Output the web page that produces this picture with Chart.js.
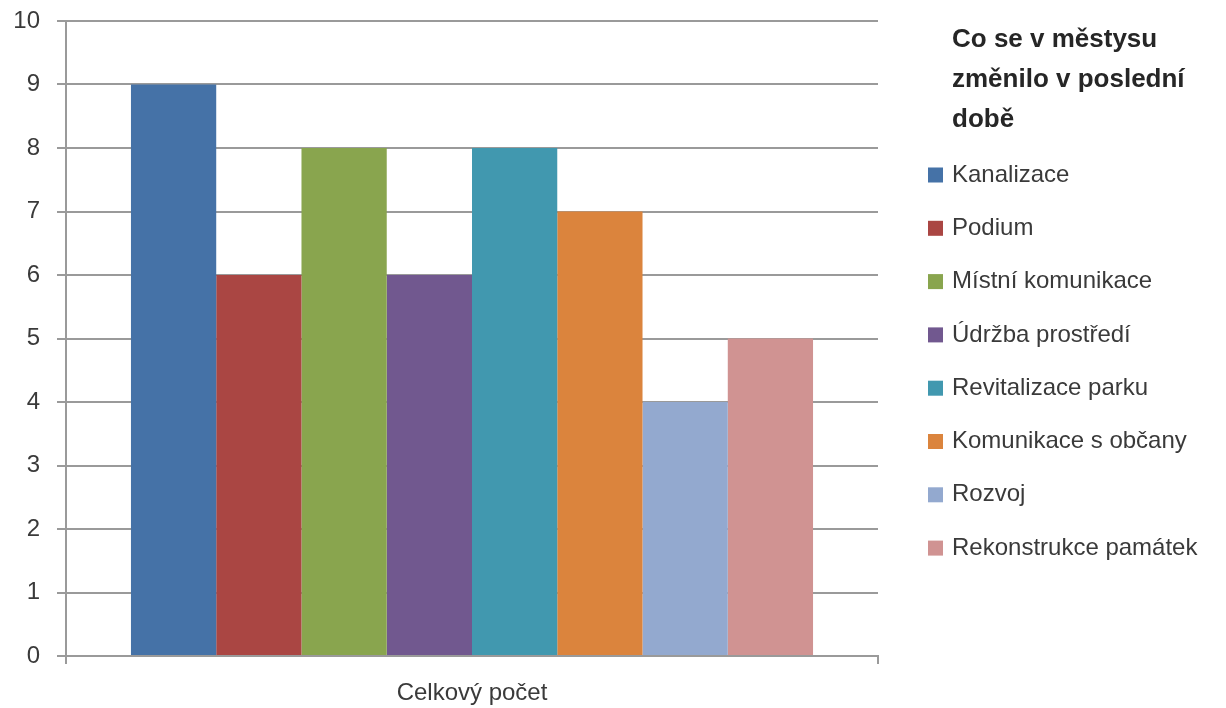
<!DOCTYPE html>
<html>
<head>
<meta charset="utf-8">
<script src="https://cdn.jsdelivr.net/npm/chart.js@4/dist/chart.umd.min.js"></script>
<style>
  html, body { margin: 0; padding: 0; background: #fff; }
  #wrap { width: 1226px; height: 708px; }
</style>
</head>
<body>
<div id="wrap"><canvas id="chart" width="1226" height="708"></canvas></div>
<script>
const categories = ["Celkový počet"];
const seriesNames = [
  "Kanalizace",
  "Podium",
  "Místní komunikace",
  "Údržba prostředí",
  "Revitalizace parku",
  "Komunikace s občany",
  "Rozvoj",
  "Rekonstrukce památek",
];
const seriesValues = [9, 6, 8, 6, 8, 7, 4, 5];
const seriesColors = [
  "#4572A7", // Kanalizace
  "#AA4643", // Podium
  "#89A54E", // Místní komunikace
  "#71588F", // Údržba prostředí
  "#4198AF", // Revitalizace parku
  "#DB843D", // Komunikace s občany
  "#93A9CF", // Rozvoj
  "#D09392", // Rekonstrukce památek
];
const legendTitle = ["Co se v městysu", "změnilo v poslední", "době"];

const FONT = "'Liberation Sans', Arial, sans-serif";

// legend drawn by hand so the title can wrap and sit above the items
const sideLegend = {
  id: "sideLegend",
  afterDraw(chart) {
    const ctx = chart.ctx;
    const x0 = chart.chartArea.right + 50;
    ctx.save();
    ctx.textBaseline = "middle";
    ctx.textAlign = "left";
    ctx.fillStyle = "#262626";
    ctx.font = "bold 26px " + FONT;
    legendTitle.forEach((line, i) => {
      ctx.fillText(line, x0 + 24, 40 + i * 40);
    });
    ctx.font = "24px " + FONT;
    chart.data.datasets.forEach((ds, i) => {
      const y = 175 + i * 53.3;
      ctx.fillStyle = ds.backgroundColor;
      ctx.fillRect(x0, y - 7.5, 15, 15);
      ctx.fillStyle = "#3a3a3a";
      ctx.fillText(ds.label, x0 + 24, y);
    });
    ctx.restore();
  },
};

const datasets = seriesNames.map((name, i) => ({
  label: name,
  data: [seriesValues[i]],
  backgroundColor: seriesColors[i],
  borderWidth: 0,
  categoryPercentage: 0.84,
  barPercentage: 1.0,
}));

const barConfig = {
  type: "bar",
  data: { labels: categories, datasets: datasets },
  options: {
    responsive: false,
    animation: false,
    layout: { padding: { top: 21, left: 0, right: 348, bottom: 0 } },
    plugins: {
      legend: { display: false },
      tooltip: { enabled: false },
    },
    scales: {
      x: {
        afterFit: (scale) => { scale.height = 52; },
        grid: {
          drawOnChartArea: false,
          drawTicks: true,
          tickLength: 8,
          color: "#9a9a9a",
          lineWidth: 2,
        },
        border: { color: "#9a9a9a", width: 2 },
        ticks: {
          color: "#3a3a3a",
          font: { family: FONT, size: 24 },
          padding: 15,
        },
      },
      y: {
        min: 0,
        max: 10,
        afterFit: (scale) => {
          scale.width = 66;
          scale.paddingTop = 0;
          scale.paddingBottom = 0;
        },
        ticks: {
          stepSize: 1,
          color: "#3a3a3a",
          font: { family: FONT, size: 24 },
          padding: 17,
        },
        grid: { color: "#9a9a9a", lineWidth: 2, tickLength: 9 },
        border: { color: "#9a9a9a", width: 2 },
      },
    },
  },
  plugins: [sideLegend],
};

const myChart = new Chart(document.getElementById("chart"), barConfig);
</script>
</body>
</html>
